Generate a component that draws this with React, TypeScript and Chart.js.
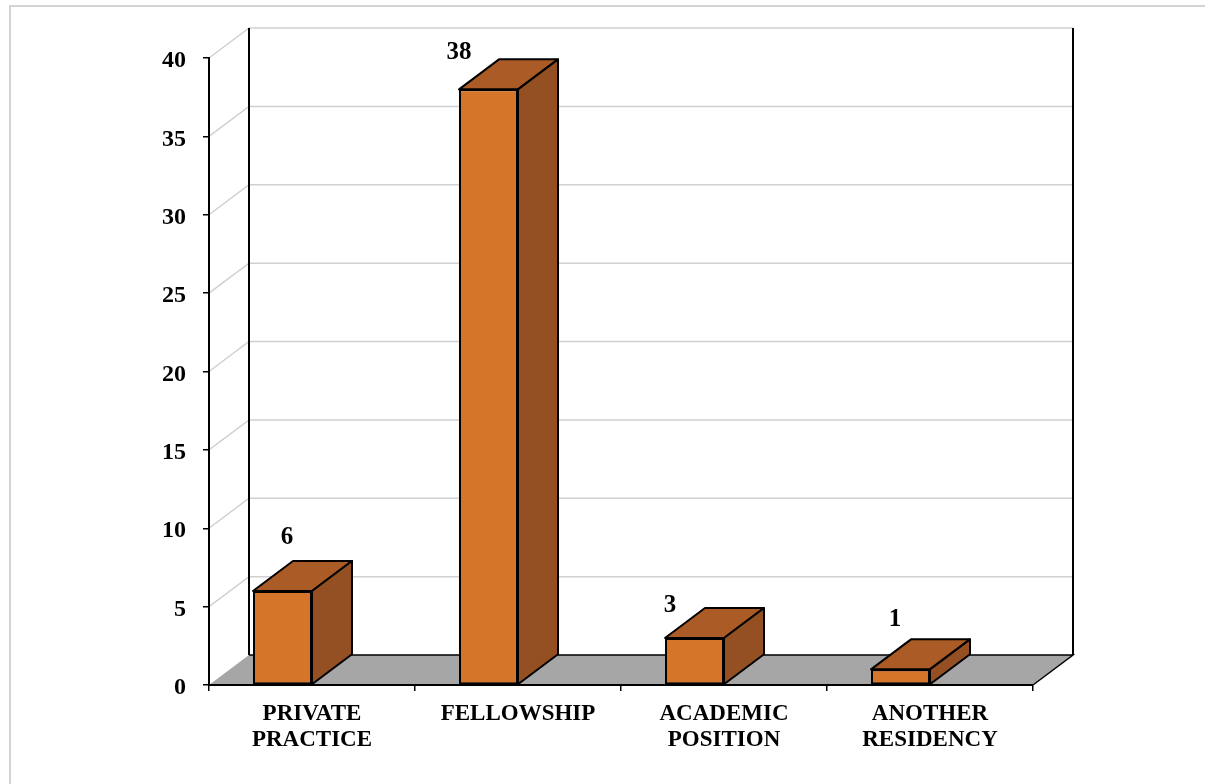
import { useEffect, useRef } from 'react';
import { Chart, registerables } from 'chart.js';

Chart.register(...registerables);

// Career paths after residency
const categories: string[][] = [
  ['PRIVATE', 'PRACTICE'],
  ['FELLOWSHIP'],
  ['ACADEMIC', 'POSITION'],
  ['ANOTHER', 'RESIDENCY'],
];
const counts: number[] = [6, 38, 3, 1];
const yMin = 0;
const yMax = 40;
const yStep = 5;

// 3D look: every box runs back by this depth vector
const DEPTH_X = 40;
const DEPTH_Y = -30;
// front faces sit to the left of the category centre
const FACE_SHIFT = -29.5;
// hand-placed value labels (offset from the front-top-left corner, after the depth rise)
const LABEL_NUDGE: [number, number][] = [
  [34, -17],
  [0, 0],
  [5, 4],
  [24, -13],
];

const FRONT = '#D5752A';
const TOP = '#AA5B26';
const SIDE = '#945022';
const FLOOR = '#A6A6A6';
const GRID = '#D0D0D0';
const FONT = '"Liberation Serif", "Times New Roman", serif';

function poly(ctx: CanvasRenderingContext2D, pts: number[][], fill: string) {
  ctx.beginPath();
  ctx.moveTo(pts[0][0], pts[0][1]);
  for (let i = 1; i < pts.length; i++) ctx.lineTo(pts[i][0], pts[i][1]);
  ctx.closePath();
  ctx.fillStyle = fill;
  ctx.fill();
  ctx.stroke();
}

const box3d = {
  id: 'box3d',
  beforeDraw(chart: any) {
    const { ctx, chartArea: a, scales } = chart;
    const y = scales.y;
    ctx.save();
    // page frame
    ctx.strokeStyle = '#D4D4D4';
    ctx.lineWidth = 2;
    ctx.beginPath();
    ctx.moveTo(10, chart.height);
    ctx.lineTo(10, 6);
    ctx.lineTo(chart.width, 6);
    ctx.stroke();

    // grid on the side wall and back wall
    ctx.strokeStyle = GRID;
    ctx.lineWidth = 1.5;
    for (const t of y.ticks) {
      if (t.value === yMin) continue;
      const py = y.getPixelForValue(t.value);
      ctx.beginPath();
      ctx.moveTo(a.left, py);
      ctx.lineTo(a.left + DEPTH_X, py + DEPTH_Y);
      ctx.lineTo(a.right + DEPTH_X, py + DEPTH_Y);
      ctx.stroke();
    }

    // floor
    const fy = y.getPixelForValue(yMin);
    ctx.beginPath();
    ctx.moveTo(a.left, fy);
    ctx.lineTo(a.right, fy);
    ctx.lineTo(a.right + DEPTH_X, fy + DEPTH_Y);
    ctx.lineTo(a.left + DEPTH_X, fy + DEPTH_Y);
    ctx.closePath();
    ctx.fillStyle = FLOOR;
    ctx.fill();

    ctx.strokeStyle = '#000';
    ctx.lineWidth = 1.5;
    ctx.beginPath();
    ctx.moveTo(a.left + DEPTH_X, fy + DEPTH_Y);
    ctx.lineTo(a.right + DEPTH_X, fy + DEPTH_Y);
    ctx.lineTo(a.right, fy);
    ctx.stroke();

    // back wall edges
    const topY = y.getPixelForValue(yMax) + DEPTH_Y;
    ctx.lineWidth = 2;
    ctx.beginPath();
    ctx.moveTo(a.left + DEPTH_X, topY);
    ctx.lineTo(a.left + DEPTH_X, fy + DEPTH_Y);
    ctx.moveTo(a.right + DEPTH_X, topY);
    ctx.lineTo(a.right + DEPTH_X, fy + DEPTH_Y);
    ctx.stroke();
    ctx.restore();
  },
  beforeDatasetDraw(chart: any) {
    chart.ctx.save();
    chart.ctx.translate(FACE_SHIFT, 0);
  },
  afterDatasetDraw(chart: any) {
    chart.ctx.restore();
  },
  afterDatasetsDraw(chart: any) {
    const { ctx } = chart;
    const meta = chart.getDatasetMeta(0);
    ctx.save();
    ctx.strokeStyle = '#000';
    ctx.lineWidth = 2;
    ctx.lineJoin = 'round';
    meta.data.forEach((el: any, i: number) => {
      const { x, y, base, width } = el.getProps(['x', 'y', 'base', 'width'], true);
      const l = x - width / 2 + FACE_SHIFT;
      const r = l + width;
      poly(ctx, [[l, y], [r, y], [r + DEPTH_X, y + DEPTH_Y], [l + DEPTH_X, y + DEPTH_Y]], TOP);
      poly(ctx, [[r, y], [r + DEPTH_X, y + DEPTH_Y], [r + DEPTH_X, base + DEPTH_Y], [r, base]], SIDE);

      const [nx, ny] = LABEL_NUDGE[i] || [0, 0];
      ctx.fillStyle = '#000';
      ctx.font = `bold 25px ${FONT}`;
      ctx.textAlign = 'center';
      ctx.textBaseline = 'alphabetic';
      ctx.fillText(String(counts[i]), l + nx, y + DEPTH_Y + ny);
    });
    ctx.restore();
  },
};

export default function App() {
  const ref = useRef<HTMLCanvasElement | null>(null);

  useEffect(() => {
    if (!ref.current) return;
    const chart = new Chart(ref.current, {
      type: 'bar',
      data: {
        labels: categories,
        datasets: [
          {
            data: counts,
            backgroundColor: FRONT,
            borderColor: '#000',
            borderWidth: 2,
            borderSkipped: false,
            barPercentage: 59 / 206,
            categoryPercentage: 1,
          },
        ],
      },
      options: {
        animation: false,
        responsive: false,
        devicePixelRatio: 1,
        events: [],
        layout: { padding: { left: 0, top: 58, right: 172, bottom: 0 } },
        plugins: {
          legend: { display: false },
          tooltip: { enabled: false },
          title: { display: false },
        },
        scales: {
          x: {
            offset: true,
            grid: {
              offset: true,
              drawOnChartArea: false,
              drawTicks: true,
              tickLength: 6,
              color: '#000',
              lineWidth: 1.5,
            },
            border: { display: true, color: '#000', width: 2 },
            ticks: {
              color: '#000',
              padding: 10,
              maxRotation: 0,
              autoSkip: false,
              font: { family: FONT, size: 23, weight: 'bold', lineHeight: 26 / 23 },
            },
            afterFit(s: any) {
              s.height = 99;
            },
          },
          y: {
            min: yMin,
            max: yMax,
            grid: {
              drawOnChartArea: false,
              drawTicks: true,
              tickLength: 6,
              color: '#000',
              lineWidth: 1.5,
            },
            border: { display: true, color: '#000', width: 2 },
            ticks: {
              stepSize: yStep,
              color: '#000',
              padding: 17,
              labelOffset: 3,
              font: { family: FONT, size: 24, weight: 'bold' },
            },
            afterFit(s: any) {
              s.width = 209;
            },
          },
        },
      },
      plugins: [box3d],
    });
    return () => chart.destroy();
  }, []);

  return (
    <div
      style={{
        position: 'absolute',
        left: 0,
        top: 0,
        width: 1205,
        height: 784,
        background: '#fff',
        overflow: 'hidden',
      }}
    >
      <canvas ref={ref} width={1205} height={784} style={{ display: 'block' }} />
    </div>
  );
}
